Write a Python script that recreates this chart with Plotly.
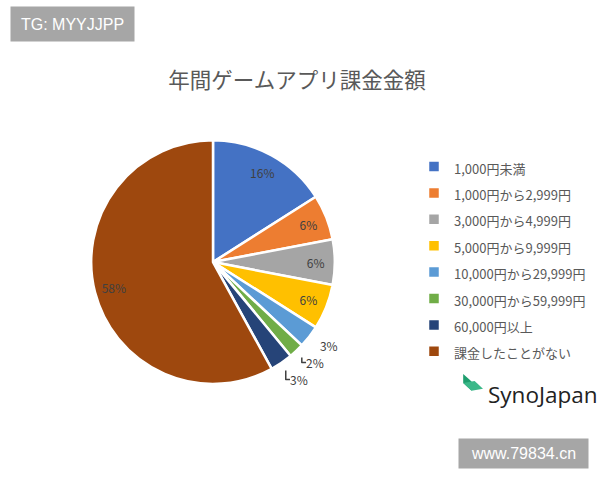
import plotly.graph_objects as go

categories = ["1,000円未満", "1,000円から2,999円", "3,000円から4,999円", "5,000円から9,999円",
              "10,000円から29,999円", "30,000円から59,999円", "60,000円以上", "課金したことがない"]
values = [16, 6, 6, 6, 3, 2, 3, 58]
colors = ["#4472C4", "#ED7D31", "#A5A5A5", "#FFC000", "#5B9BD5", "#70AD47", "#264478", "#9E480E"]
label_modes = ["inside", "inside", "inside", "inside", "outside", "outside", "outside", "inside"]

FONT = "Noto Sans CJK JP"
LABEL_COLOR = "#404040"
CLEAR = "rgba(0,0,0,0)"
DOMAIN = dict(x=[0.152, 0.558], y=[0.2, 0.708])
LABEL_DOMAIN = dict(x=[0.135, 0.572], y=[0.181, 0.727])

inside_pos = [p if p == "inside" else "none" for p in label_modes]
outside_pos = [p if p == "outside" else "none" for p in label_modes]

legend_labels = ['<span style="font-size:13px">%s</span>' % c for c in categories]

common = dict(labels=legend_labels, values=values, sort=False, direction="clockwise", rotation=0,
              hoverinfo="skip", texttemplate="%{value}%", insidetextorientation="horizontal")

fig = go.Figure()
# main pie (slices + legend)
fig.add_trace(go.Pie(
    **common,
    marker=dict(colors=colors, line=dict(color="white", width=2.5)),
    textposition="none",
    domain=DOMAIN,
    showlegend=True,
))
# transparent ring overlay: inside labels near the outer edge
fig.add_trace(go.Pie(
    **common,
    hole=0.68,
    marker=dict(colors=[CLEAR] * len(values), line=dict(color=CLEAR, width=0)),
    textposition=inside_pos,
    textfont=dict(family=FONT, size=12, color=LABEL_COLOR),
    domain=DOMAIN,
    showlegend=False,
))
# transparent, slightly larger overlay: outside labels for the small slices
fig.add_trace(go.Pie(
    **common,
    marker=dict(colors=[CLEAR] * len(values), line=dict(color=CLEAR, width=0)),
    textposition=outside_pos,
    textfont=dict(family=FONT, size=12, color=LABEL_COLOR),
    outsidetextfont=dict(family=FONT, size=12, color=LABEL_COLOR),
    domain=LABEL_DOMAIN,
    showlegend=False,
))

fig.update_layout(
    width=600, height=480,
    margin=dict(l=0, r=0, t=0, b=0),
    paper_bgcolor="white",
    font=dict(family=FONT, color="#595959"),
    title=dict(text="年間ゲームアプリ課金金額", x=0.495, xanchor="center", y=0.833, yanchor="middle",
               font=dict(family=FONT, size=21.5, color="#595959")),
    legend=dict(x=0.69, y=0.691, xanchor="left", yanchor="top",
                font=dict(family=FONT, size=18, color="#595959"),
                bgcolor="rgba(0,0,0,0)"),
    annotations=[
        dict(text="TG: MYYJJPP", xref="paper", yref="paper", x=0.017, y=0.9875, xanchor="left", yanchor="top",
             showarrow=False, bgcolor="#A6A6A6", font=dict(family="Liberation Sans", size=16, color="white"),
             width=115, height=26, borderpad=4),
        dict(text="www.79834.cn", xref="paper", yref="paper", x=0.982, y=0.023, xanchor="right", yanchor="bottom",
             showarrow=False, bgcolor="#A6A6A6", font=dict(family="Liberation Sans", size=16, color="white"),
             width=121, height=21, borderpad=4),
        dict(text="SynoJapan", xref="paper", yref="paper", x=0.81, y=0.179, xanchor="left", yanchor="middle",
             showarrow=False, font=dict(family="Open Sans", size=22.5, color="#222222")),
    ],
    shapes=[
        dict(type="path", xref="paper", yref="paper",
             path="M 0.772 0.221 L 0.786 0.205 L 0.786 0.186 L 0.772 0.202 Z",
             fillcolor="#1E9E6E", line=dict(width=0)),
        dict(type="path", xref="paper", yref="paper",
             path="M 0.772 0.202 L 0.786 0.186 L 0.805 0.19 L 0.791 0.206 Z",
             fillcolor="#3CB889", line=dict(width=0)),
    ],
)

fig.write_html("out.html", config={"displayModeBar": False},
               post_script="document.body.style.margin='0';")
